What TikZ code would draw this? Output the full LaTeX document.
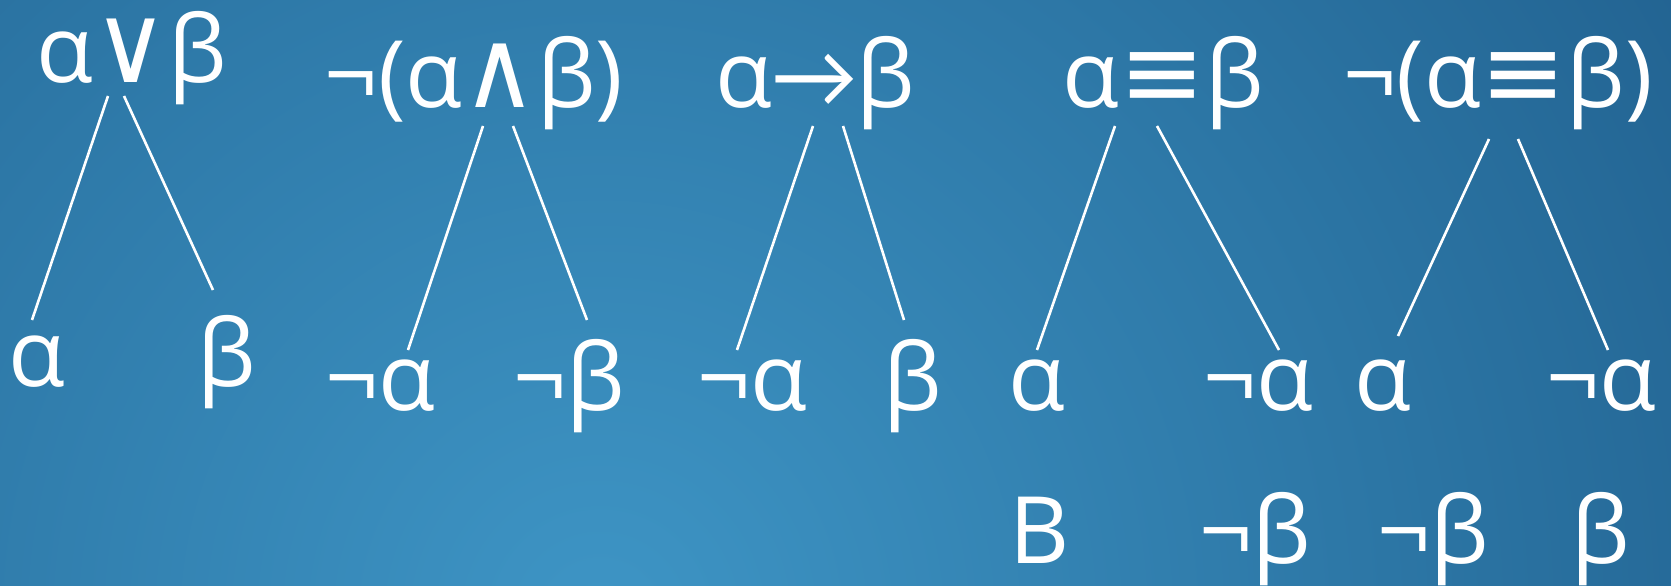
\documentclass[tikz,border=0pt]{standalone}
\usepackage{fontspec}
\setmainfont{Open Sans}
\newfontfamily\symf{DejaVu Sans}
\newfontfamily\calf{Carlito}
\definecolor{bgin}{HTML}{3E95C5}
\definecolor{bgmid}{HTML}{2B74A3}
\definecolor{bgout}{HTML}{1B5583}
\pgfdeclareradialshading{bgshade}{\pgfpoint{0bp}{0bp}}{color(0bp)=(bgin); color(14bp)=(bgmid); color(27bp)=(bgout); color(50bp)=(bgout)}
\newcommand{\opor}{{\symf\scalebox{1.1}[1.18]{∨}}}
\newcommand{\opand}{{\symf\scalebox{1.1}[1.18]{∧}}}
\newcommand{\opimp}{{\calf→}}
\newcommand{\opeq}{{\symf\scalebox{1.1}{≡}}}
\tikzset{
  lbl/.style={text=white, inner sep=0pt, anchor=base, font=\fontsize{93}{100}\selectfont},
  edge/.style={draw=white, line width=2.6pt}
}
\begin{document}
\begin{tikzpicture}[x=1pt,y=-1pt]
\useasboundingbox (0,0) rectangle (1671,586);
\begin{scope}
\clip (0,0) rectangle (1671,586);
\fill[bgout] (0,0) rectangle (1671,586);
\shade[shading=bgshade] (600,620) circle (1500);
\end{scope}
% top row
\node[lbl, text height=70pt] (t1) at (132,82) {α\opor β};
\node[lbl] (t2) at (474,107) {¬(α\opand β)};
\node[lbl] (t3) at (815,107) {α\opimp β};
\node[lbl] (t4) at (1163,107) {α\opeq β};
\node[lbl] (t5) at (1498,107) {¬(α\opeq β)};
% second row
\node[lbl] (a1) at (37,386) {α};
\node[lbl] (b1) at (227,386) {β};
\node[lbl] (a2) at (380,410) {¬α};
\node[lbl] (b2) at (569,410) {¬β};
\node[lbl] (a3) at (752,410) {¬α};
\node[lbl] (b3) at (913,410) {β};
\node[lbl] (a4) at (1037,410) {α};
\node[lbl] (b4) at (1258,410) {¬α};
\node[lbl] (a5) at (1383,410) {α};
\node[lbl] (b5) at (1601,410) {¬α};
% third row
\node[lbl] (c4) at (1040,563) {B};
\node[lbl] (d4) at (1255,563) {¬β};
\node[lbl] (c5) at (1433,563) {¬β};
\node[lbl] (d5) at (1601,563) {β};
% connectors
\draw[edge] ([shift={(-24,14)}]t1.base) -- ([shift={(-5,-66)}]a1.base);
\draw[edge] ([shift={(-8,14)}]t1.base) -- ([shift={(-14,-96)}]b1.base);
\draw[edge] ([shift={(9,19)}]t2.base) -- ([shift={(28,-60)}]a2.base);
\draw[edge] ([shift={(39,19)}]t2.base) -- ([shift={(18,-90)}]b2.base);
\draw[edge] ([shift={(-2,19)}]t3.base) -- ([shift={(-15,-60)}]a3.base);
\draw[edge] ([shift={(28,19)}]t3.base) -- ([shift={(-9,-90)}]b3.base);
\draw[edge] ([shift={(-48,19)}]t4.base) -- ([shift={(0,-60)}]a4.base);
\draw[edge] ([shift={(-6,19)}]t4.base) -- ([shift={(21,-60)}]b4.base);
\draw[edge] ([shift={(-9,32)}]t5.base) -- ([shift={(15,-74)}]a5.base);
\draw[edge] ([shift={(20,32)}]t5.base) -- ([shift={(7,-60)}]b5.base);
\end{tikzpicture}
\end{document}
